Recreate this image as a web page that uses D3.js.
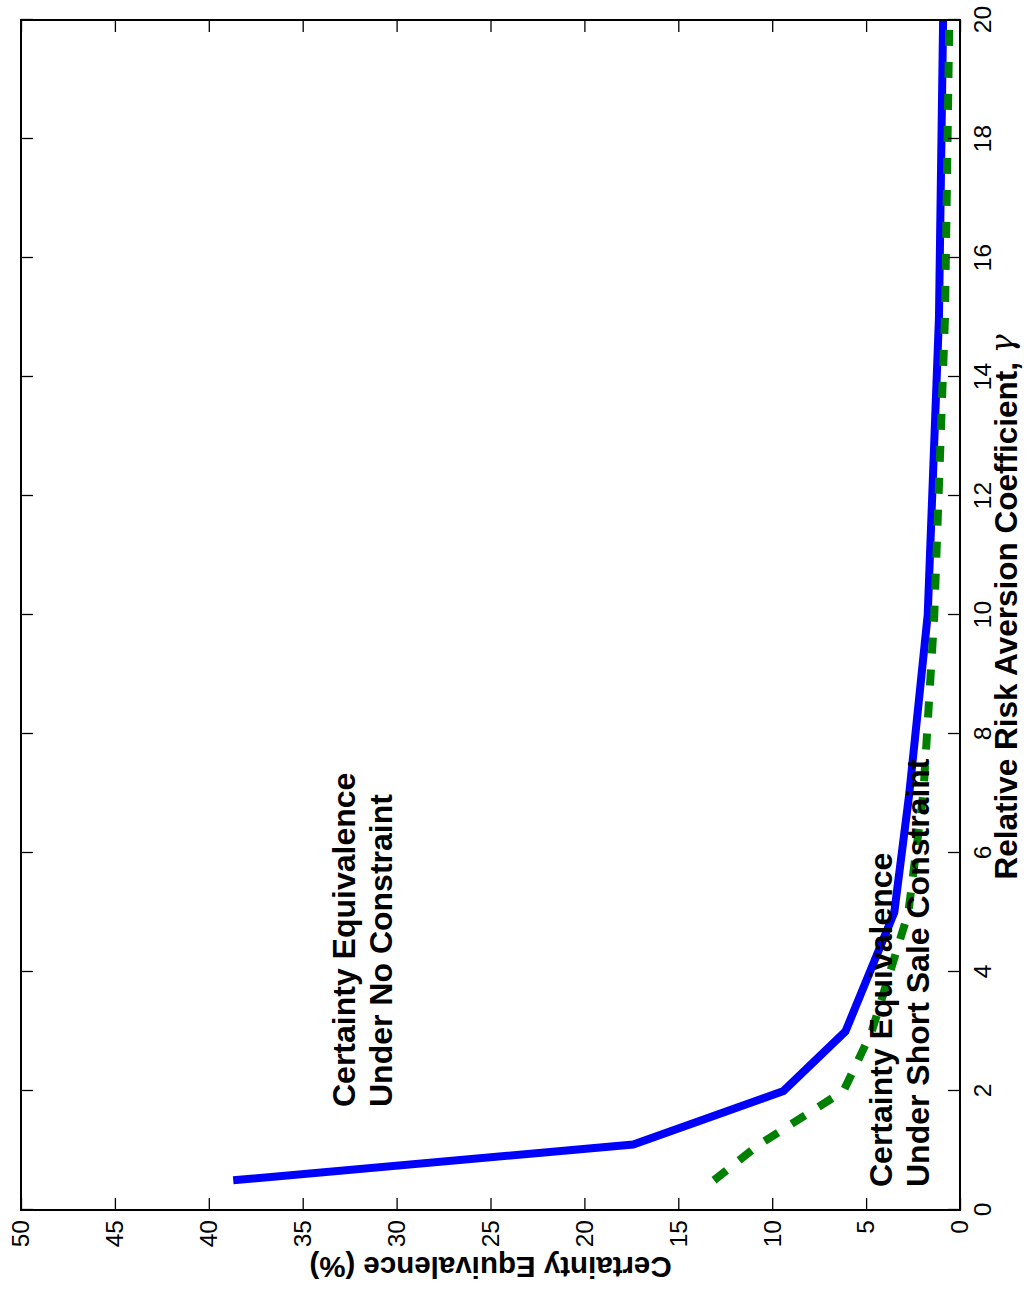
<!DOCTYPE html>
<html><head><meta charset="utf-8">
<script src="https://cdn.jsdelivr.net/npm/d3@7"></script>
<style>body{margin:0;background:#fff} svg{display:block}</style>
</head><body>
<script>
// ---- data ----
const gammaValues = [0.5, 1.1, 2, 3, 5, 7, 10, 15, 20];
const ceNoConstraint = [38.7, 17.4, 9.4, 6.1, 3.5, 2.7, 1.72, 1.12, 0.9];
const ceShortSale = [13.1, 10.7, 6.2, 4.7, 2.75, 1.95, 1.37, 0.8, 0.57];
const gammaTicks = [0, 2, 4, 6, 8, 10, 12, 14, 16, 18, 20];
const ceTicks = [0, 5, 10, 15, 20, 25, 30, 35, 40, 45, 50];
const xLabelText = "Relative Risk Aversion Coefficient, ";
const xLabelSymbol = "\u03b3";
const yLabelText = "Certainty Equivalence (%)";
const noteNoConstraint = ["Certainty Equivalence", "Under No Constraint"];
const noteShortSale = ["Certainty Equivalence", "Under Short Sale Constraint"];

// ---- layout ----
const W = 1028, H = 1289;
const frame = {left: 21, right: 960, top: 20, bottom: 1210};
const innerW = frame.bottom - frame.top;   // gamma axis length (rotated)
const innerH = frame.right - frame.left;   // CE axis length (rotated)
const FONT = "'Liberation Sans', Arial, Helvetica, sans-serif";

const svg = d3.select("body").append("svg").attr("width", W).attr("height", H)
  .style("font-family", FONT);
svg.append("rect").attr("width", W).attr("height", H).attr("fill", "#fff");

// the whole MATLAB figure is rotated 90 degrees counter-clockwise
const g = svg.append("g")
  .attr("transform", `translate(${frame.left},${frame.bottom}) rotate(-90)`);

const x = d3.scaleLinear().domain([0, 20]).range([0, innerW]);
const y = d3.scaleLinear().domain([0, 50]).range([innerH, 0]);

// ---- lines ----
const line = (vals) => d3.line().x((d, i) => x(gammaValues[i])).y(d => y(d))(vals);

g.append("path").attr("d", line(ceNoConstraint))
  .attr("fill", "none").attr("stroke", "#0000ff").attr("stroke-width", 8)
  .attr("stroke-linejoin", "miter");
g.append("path").attr("d", line(ceShortSale))
  .attr("fill", "none").attr("stroke", "#008000").attr("stroke-width", 8)
  .attr("stroke-dasharray", "16,16");

// ---- axes ----
const tickLen = 12;
function styleAxis(sel, showLabels) {
  sel.select(".domain").remove();
  sel.selectAll(".tick line").attr("stroke", "#000").attr("stroke-width", 1.3);
  if (!showLabels) sel.selectAll(".tick text").remove();
  else sel.selectAll(".tick text").attr("fill", "#000").style("font-size", "24.5px").style("font-family", FONT);
}
g.append("g").attr("transform", `translate(0,${innerH})`)
  .call(d3.axisBottom(x).tickValues(gammaTicks).tickFormat(d3.format("d"))
    .tickSizeInner(-tickLen).tickSizeOuter(0).tickPadding(14))
  .call(s => styleAxis(s, true));
g.append("g")
  .call(d3.axisTop(x).tickValues(gammaTicks).tickSizeInner(-tickLen).tickSizeOuter(0))
  .call(s => styleAxis(s, false));
g.append("g")
  .call(d3.axisLeft(y).tickValues(ceTicks).tickFormat(d3.format("d"))
    .tickSizeInner(-tickLen).tickSizeOuter(0).tickPadding(10))
  .call(s => styleAxis(s, true));
g.append("g").attr("transform", `translate(${innerW},0)`)
  .call(d3.axisRight(y).tickValues(ceTicks).tickSizeInner(-tickLen).tickSizeOuter(0))
  .call(s => styleAxis(s, false));

// frame
g.append("rect").attr("x", 0).attr("y", 0).attr("width", innerW).attr("height", innerH)
  .attr("fill", "none").attr("stroke", "#000").attr("stroke-width", 2);

// ---- axis titles ----
const xt = g.append("text").attr("x", x(10) + 8).attr("y", innerH + 57)
  .attr("text-anchor", "middle").style("font-size", "31.5px").style("font-weight", "bold");
xt.append("tspan").text(xLabelText);
xt.append("tspan").text(xLabelSymbol).attr("dy", -4).style("font-weight", "normal")
  .style("font-family", "'DejaVu Serif', serif").style("font-style", "italic");

g.append("text")
  .attr("transform", `translate(-47,${y(25)}) rotate(-90)`)
  .attr("text-anchor", "middle").style("font-size", "29.5px").style("font-weight", "bold")
  .text(yLabelText);

// ---- annotations ----
function note(lines, x0, y0) {
  const t = g.append("text").style("font-size", "32px").style("font-weight", "bold");
  lines.forEach((s, i) => t.append("tspan").attr("x", x0).attr("y", y0 + i * 37).text(s));
}
note(noteNoConstraint, 103, 334);
note(noteShortSale, 23, 871);
</script>
</body></html>
